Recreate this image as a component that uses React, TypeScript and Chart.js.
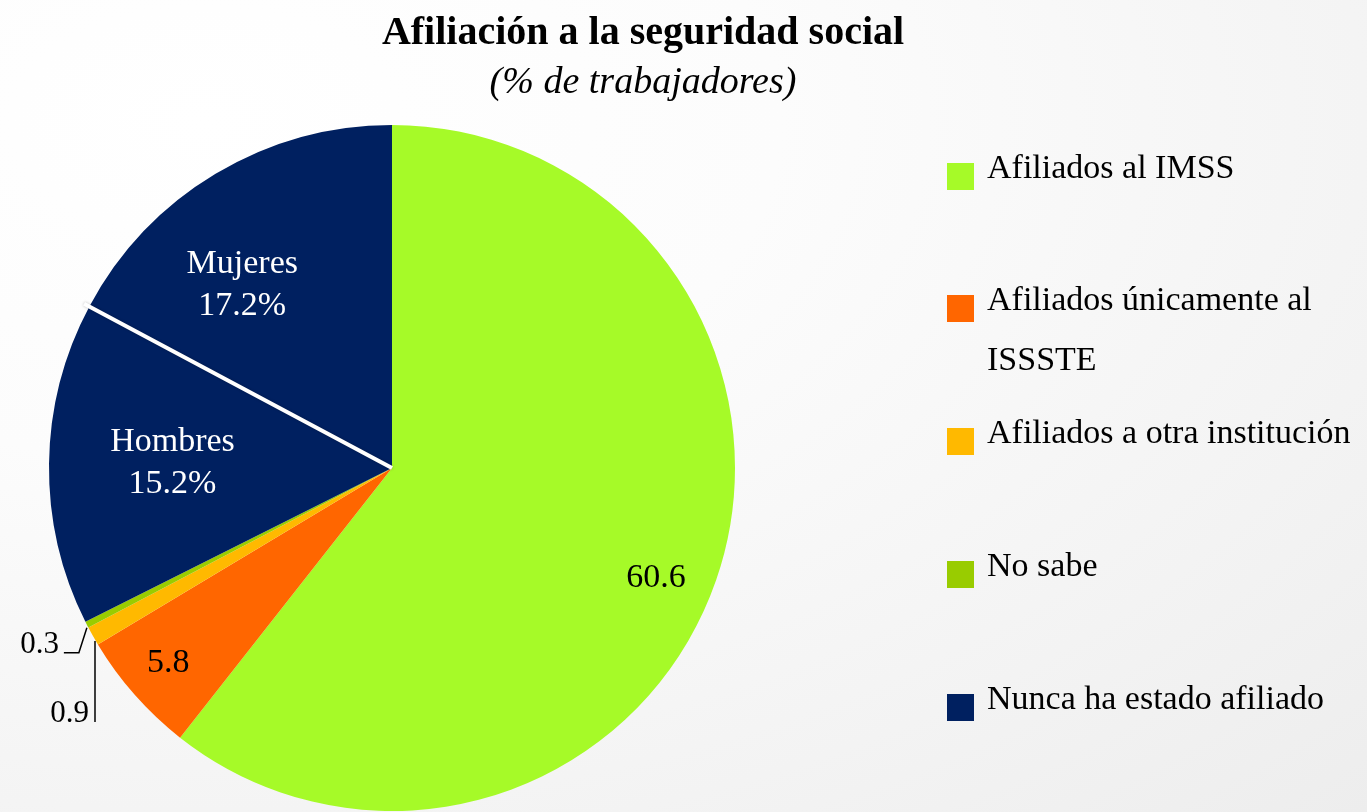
import React, { useEffect, useRef } from 'react';
import { Chart, registerables } from 'chart.js';

Chart.register(...registerables);

// ---- Data ----
const titleText = 'Afiliación a la seguridad social';
const subtitleText = '(% de trabajadores)';

const legendLabels = [
  'Afiliados al IMSS',
  'Afiliados únicamente al ISSSTE',
  'Afiliados a otra institución',
  'No sabe',
  'Nunca ha estado afiliado',
];
const legendColors = ['#A6FA28', '#FF6600', '#FFB900', '#99CC00', '#002060'];

const sliceNames = [
  'Afiliados al IMSS',
  'Afiliados únicamente al ISSSTE',
  'Afiliados a otra institución',
  'No sabe',
  'Hombres',
  'Mujeres',
];
const sliceValues = [60.6, 5.8, 0.9, 0.3, 15.2, 17.2];
const sliceColors = ['#A6FA28', '#FF6600', '#FFB900', '#99CC00', '#002060', '#002060'];
const sliceLabelLines = [['60.6'], ['5.8'], ['0.9'], ['0.3'], ['Hombres', '15.2%'], ['Mujeres', '17.2%']];

const SERIF = '"Liberation Serif", "Times New Roman", serif';

const labelPlugin = {
  id: 'sliceLabels',
  afterDatasetsDraw(chart: any) {
    const ctx = chart.ctx;
    const meta = chart.getDatasetMeta(0);
    const arcs = meta.data;
    ctx.save();
    // divider between Hombres and Mujeres
    const mj: any = arcs[5].getProps(['x', 'y', 'startAngle', 'outerRadius'], true);
    ctx.strokeStyle = '#ffffff';
    ctx.lineWidth = 4;
    ctx.shadowColor = 'rgba(0,0,0,0.25)';
    ctx.shadowBlur = 3;
    ctx.beginPath();
    ctx.moveTo(mj.x, mj.y);
    ctx.lineTo(
      mj.x + (mj.outerRadius + 6) * Math.cos(mj.startAngle),
      mj.y + (mj.outerRadius + 6) * Math.sin(mj.startAngle)
    );
    ctx.stroke();
    ctx.shadowColor = 'transparent';
    ctx.shadowBlur = 0;

    ctx.font = '34px ' + SERIF;
    ctx.textAlign = 'center';
    ctx.textBaseline = 'middle';
    const radFrac: Record<number, number> = { 0: 0.83, 1: 0.87, 4: 0.64, 5: 0.69 };
    const nudge: Record<number, [number, number]> = { 0: [-5, 17], 1: [0, -2], 4: [0, -2], 5: [-28, 20] };
    [0, 1, 4, 5].forEach((i) => {
      const p: any = arcs[i].getProps(['x', 'y', 'startAngle', 'endAngle', 'outerRadius'], true);
      const mid = (p.startAngle + p.endAngle) / 2;
      const r = p.outerRadius * radFrac[i];
      const cx = p.x + r * Math.cos(mid) + nudge[i][0];
      const cy = p.y + r * Math.sin(mid) + nudge[i][1];
      const lines = sliceLabelLines[i];
      ctx.fillStyle = sliceColors[i] === '#002060' ? '#ffffff' : '#000000';
      const lh = 42;
      lines.forEach((t, k) => {
        ctx.fillText(t, cx, cy + (k - (lines.length - 1) / 2) * lh);
      });
    });

    // small slices with leader lines
    ctx.strokeStyle = '#000000';
    ctx.lineWidth = 1.5;
    ctx.fillStyle = '#000000';
    ctx.textAlign = 'right';
    ctx.textBaseline = 'alphabetic';
    ctx.font = '31px ' + SERIF;
    {
      const p: any = arcs[3].getProps(['x', 'y', 'startAngle', 'endAngle', 'outerRadius'], true);
      const mid = (p.startAngle + p.endAngle) / 2;
      const sx = p.x + p.outerRadius * Math.cos(mid);
      const sy = p.y + p.outerRadius * Math.sin(mid);
      ctx.beginPath();
      ctx.moveTo(sx, sy + 3);
      ctx.lineTo(sx - 8, sy + 28);
      ctx.lineTo(sx - 23, sy + 28);
      ctx.stroke();
      ctx.fillText(sliceLabelLines[3][0], sx - 28, sy + 28);
    }
    {
      const p: any = arcs[2].getProps(['x', 'y', 'startAngle', 'endAngle', 'outerRadius'], true);
      const mid = (p.startAngle + p.endAngle) / 2;
      const sx = p.x + p.outerRadius * Math.cos(mid);
      const sy = p.y + p.outerRadius * Math.sin(mid);
      ctx.beginPath();
      ctx.moveTo(sx + 2, sy + 5);
      ctx.lineTo(sx + 2, sy + 86);
      ctx.stroke();
      ctx.fillText(sliceLabelLines[2][0], sx - 4, sy + 86);
    }
    ctx.restore();
  },
};

export default function App() {
  const canvasRef = useRef<HTMLCanvasElement | null>(null);

  useEffect(() => {
    document.body.style.margin = '0';
    const canvas = canvasRef.current;
    if (!canvas) return;
    const chart = new Chart(canvas, {
      type: 'pie',
      data: {
        labels: sliceNames,
        datasets: [
          {
            data: sliceValues,
            backgroundColor: sliceColors,
            borderWidth: 0,
          },
        ],
      },
      options: {
        responsive: false,
        animation: false,
        events: [],
        layout: { padding: { left: 49, top: 125, right: 632, bottom: 1 } },
        plugins: {
          legend: { display: false },
          tooltip: { enabled: false },
          title: { display: false },
        },
      },
      plugins: [labelPlugin],
    });
    return () => chart.destroy();
  }, []);

  const itemTops = [163, 295, 428, 561, 694];

  return (
    <div
      style={{
        position: 'fixed',
        left: 0,
        top: 0,
        width: 1367,
        height: 812,
        overflow: 'hidden',
        background:
          'radial-gradient(ellipse at 15% 15%, #ffffff 0%, #fcfcfc 35%, #f3f3f3 75%, #ededed 100%)',
        fontFamily: SERIF,
        color: '#000',
      }}
    >
      <canvas ref={canvasRef} width={1367} height={812} style={{ position: 'absolute', left: 0, top: 0 }} />
      <div
        style={{
          position: 'absolute',
          left: 0,
          width: 1286,
          top: 11,
          textAlign: 'center',
          fontSize: 40,
          fontWeight: 'bold',
          lineHeight: '40px',
          whiteSpace: 'nowrap',
        }}
      >
        {titleText}
      </div>
      <div
        style={{
          position: 'absolute',
          left: 0,
          width: 1286,
          top: 61,
          textAlign: 'center',
          fontSize: 38,
          fontStyle: 'italic',
          lineHeight: '38px',
          whiteSpace: 'nowrap',
        }}
      >
        {subtitleText}
      </div>
      {legendLabels.map((lab, i) => (
        <React.Fragment key={lab}>
          <div
            style={{
              position: 'absolute',
              left: 947,
              top: itemTops[i],
              width: 27,
              height: 27,
              background: legendColors[i],
            }}
          />
          <div
            style={{
              position: 'absolute',
              left: 987,
              top: itemTops[i] - 26,
              width: 375,
              fontSize: 34,
              lineHeight: '60px',
            }}
          >
            {lab}
          </div>
        </React.Fragment>
      ))}
    </div>
  );
}
